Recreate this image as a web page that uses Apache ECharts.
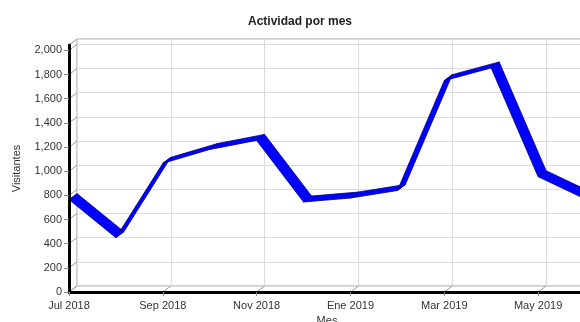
<!DOCTYPE html>
<html>
<head>
<meta charset="utf-8">
<script src="https://cdn.jsdelivr.net/npm/echarts@6/dist/echarts.min.js"></script>
<style>
  html, body { margin: 0; padding: 0; background: #fff; }
  #chart { width: 580px; height: 322px; }
</style>
</head>
<body>
<div id="chart"></div>
<script>
// Monthly visitors
const categories = ['Jul 2018', 'Ago 2018', 'Sep 2018', 'Oct 2018', 'Nov 2018', 'Dic 2018',
                    'Ene 2019', 'Feb 2019', 'Mar 2019', 'Abr 2019', 'May 2019', 'Jun 2019'];
const visitantes = [765, 450, 1065, 1180, 1255, 745, 778, 840, 1750, 1855, 955, 770];
const yTicks = [0, 200, 400, 600, 800, 1000, 1200, 1400, 1600, 1800, 2000];
const yMax = 2045;

// depth of the pseudo-3D box (back plane offset in pixels)
const DEPTH_X = 8, DEPTH_Y = -6;
const FRONT = { left: 69, top: 45, width: 516, height: 247 };
const FONT = '"Liberation Sans", Arial, sans-serif';

// ribbon segments: [index, value, next value]
const segments = visitantes.slice(0, -1).map((v, i) => [i, v, visitantes[i + 1]]);
// connector lines from front ticks to the back wall
const tickLinks = yTicks.map(v => [0, v]).concat([[0, yMax]])
  .concat(categories.map((c, i) => [i, 0]).filter(d => d[0] % 2 === 0));

const chart = echarts.init(document.getElementById('chart'), null, { renderer: 'canvas' });

chart.setOption({
  animation: false,
  backgroundColor: '#fff',
  title: {
    text: 'Actividad por mes',
    left: 243, top: 11,
    textStyle: { fontFamily: FONT, fontSize: 12, fontWeight: 'bold', color: '#222' }
  },
  grid: [
    { left: FRONT.left, top: FRONT.top, width: FRONT.width, height: FRONT.height,
      containLabel: false, outerBoundsMode: 'none' },
    { left: FRONT.left + DEPTH_X, top: FRONT.top + DEPTH_Y, width: FRONT.width, height: FRONT.height,
      containLabel: false, outerBoundsMode: 'none',
      show: true, borderColor: '#9a9a9a', borderWidth: 1, backgroundColor: 'transparent' }
  ],
  xAxis: [
    {
      type: 'category', gridIndex: 0, data: categories, boundaryGap: false, z: 10,
      axisLine: { show: true, lineStyle: { color: '#000', width: 3 } },
      axisTick: { show: true, interval: 1, length: 4, lineStyle: { color: '#888' } },
      axisLabel: { interval: 1, margin: 8, fontSize: 11, color: '#333', fontFamily: FONT },
      splitLine: { show: false },
      name: 'Mes', nameLocation: 'middle', nameGap: 23,
      nameTextStyle: { fontSize: 11, color: '#333', fontFamily: FONT }
    },
    {
      type: 'category', gridIndex: 1, data: categories, boundaryGap: false,
      axisLine: { show: false }, axisTick: { show: false }, axisLabel: { show: false },
      splitLine: { show: true, interval: 1, lineStyle: { color: '#dcdcdc', width: 1 } }
    }
  ],
  yAxis: [
    {
      type: 'value', gridIndex: 0, min: 0, max: yMax, interval: 200, z: 10,
      axisLine: { show: true, lineStyle: { color: '#000', width: 3 } },
      axisTick: { show: true, length: 5, customValues: yTicks, lineStyle: { color: '#888' } },
      axisLabel: {
        customValues: yTicks, margin: 7, fontSize: 11, color: '#333', fontFamily: FONT,
        formatter: v => v.toLocaleString('en-US')
      },
      splitLine: { show: false },
      name: 'Visitantes', nameLocation: 'middle', nameGap: 47,
      nameTextStyle: { fontSize: 11, color: '#333', fontFamily: FONT }
    },
    {
      type: 'value', gridIndex: 1, min: 0, max: yMax, interval: 200,
      axisLine: { show: false }, axisTick: { show: false }, axisLabel: { show: false },
      splitLine: { show: true, lineStyle: { color: '#dcdcdc', width: 1 } }
    }
  ],
  series: [
    {
      // diagonal links between the front axes and the back wall
      type: 'custom', xAxisIndex: 0, yAxisIndex: 0, z: 1,
      data: tickLinks,
      renderItem: (params, api) => {
        const p = api.coord([api.value(0), api.value(1)]);
        return {
          type: 'line',
          shape: { x1: p[0], y1: p[1], x2: p[0] + DEPTH_X, y2: p[1] + DEPTH_Y },
          style: { stroke: '#9a9a9a', lineWidth: 1 }
        };
      }
    },
    {
      // 3D ribbon line: each segment is a quad between the front and back planes
      type: 'custom', xAxisIndex: 0, yAxisIndex: 0, z: 5,
      data: segments,
      encode: { x: 0, y: 1 },
      renderItem: (params, api) => {
        const i = api.value(0);
        const a = api.coord([i, api.value(1)]);
        const b = api.coord([i + 1, api.value(2)]);
        return {
          type: 'polygon',
          shape: { points: [a, b, [b[0] + DEPTH_X, b[1] + DEPTH_Y], [a[0] + DEPTH_X, a[1] + DEPTH_Y]] },
          style: { fill: '#0000ff', stroke: '#00007a', lineWidth: 0.8, lineJoin: 'round' }
        };
      }
    }
  ]
});
</script>
</body>
</html>
